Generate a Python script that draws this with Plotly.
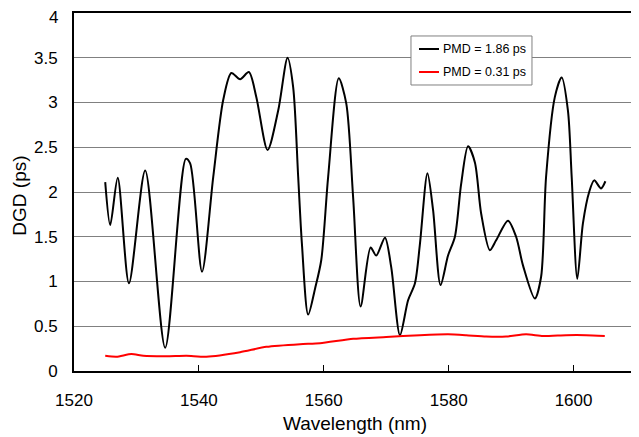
import plotly.graph_objects as go

# Black curve: PMD = 1.86 ps
wl_black = [1525.0, 1525.8, 1527.0, 1528.8, 1531.4, 1534.6, 1537.9, 1538.6, 1540.5,
            1542.3, 1543.9, 1545.2, 1546.6, 1548.0, 1549.2, 1551.0, 1552.7, 1554.2,
            1555.1, 1555.9, 1556.5, 1557.5, 1558.6, 1559.6, 1560.7, 1562.4, 1563.6,
            1564.7, 1565.9, 1567.5, 1568.4, 1569.8, 1570.8, 1572.2, 1573.5, 1574.6,
            1575.4, 1576.6, 1577.5, 1578.7, 1579.9, 1581.0, 1582.0, 1583.1, 1584.2,
            1585.2, 1586.6, 1587.6, 1589.5, 1590.8, 1591.9, 1593.8, 1594.8, 1595.6,
            1597.0, 1598.1, 1599.1, 1599.7, 1600.6, 1601.5, 1602.5, 1603.3, 1604.4,
            1605.1]
dgd_black = [2.11, 1.63, 2.16, 0.98, 2.24, 0.26, 2.37, 2.32, 1.11,
             2.17, 3.03, 3.33, 3.26, 3.34, 3.06, 2.47, 2.91, 3.50,
             3.17, 2.17, 1.42, 0.63, 0.92, 1.24, 2.17, 3.27, 2.99,
             1.94, 0.72, 1.38, 1.29, 1.49, 1.16, 0.40, 0.79, 0.98,
             1.42, 2.21, 1.80, 0.96, 1.29, 1.50, 2.09, 2.51, 2.33,
             1.76, 1.35, 1.46, 1.68, 1.50, 1.18, 0.81, 1.05, 2.17,
             3.06, 3.28, 2.91, 2.17, 1.03, 1.65, 2.00, 2.13, 2.04,
             2.12]

# Red curve: PMD = 0.31 ps
wl_red = [1525.0, 1526.8, 1529.2, 1531.1, 1534.8, 1538.0, 1541.2, 1546.6, 1550.8,
          1556.2, 1559.4, 1564.7, 1570.0, 1575.4, 1579.9, 1582.8, 1586.0, 1589.2,
          1592.4, 1595.1, 1598.8, 1602.0, 1605.0]
dgd_red = [0.17, 0.16, 0.19, 0.17, 0.165, 0.17, 0.16, 0.21, 0.27,
           0.30, 0.31, 0.36, 0.38, 0.40, 0.41, 0.40, 0.385, 0.385,
           0.41, 0.39, 0.40, 0.40, 0.39]

series_names = ["PMD = 1.86 ps", "PMD = 0.31 ps"]
series_colors = ["black", "#ff0000"]
x_ticks = [1520, 1540, 1560, 1580, 1600]
y_ticks = [0, 0.5, 1, 1.5, 2, 2.5, 3, 3.5, 4]

fig = go.Figure()
fig.add_trace(go.Scatter(x=wl_black, y=dgd_black, mode="lines", name=series_names[0],
                         line=dict(color=series_colors[0], width=2, shape="spline", smoothing=0.8)))
fig.add_trace(go.Scatter(x=wl_red, y=dgd_red, mode="lines", name=series_names[1],
                         line=dict(color=series_colors[1], width=2, shape="spline", smoothing=0.6)))

font = "Liberation Sans, Arial, sans-serif"

# Manual legend (box, line samples, labels) in paper coordinates
shapes = [dict(type="rect", xref="paper", yref="paper", x0=0.5996, x1=0.8149,
               y0=0.7989, y1=0.9358, line=dict(color="#808080", width=1),
               fillcolor="white", layer="above")]
annotations = []
leg_y = [0.8994, 0.8352]
for name, col, yy in zip(series_names, series_colors, leg_y):
    shapes.append(dict(type="line", xref="paper", yref="paper", x0=0.6139, x1=0.6495,
                       y0=yy, y1=yy, line=dict(color=col, width=2), layer="above"))
    annotations.append(dict(xref="paper", yref="paper", x=0.6530, y=yy, text=name,
                            showarrow=False, xanchor="left", yanchor="middle",
                            font=dict(size=12.5, family=font, color="black")))

# Top y tick label sits a little below the top edge (as in the reference), drawn as annotation
y_ticktext = [str(v) for v in y_ticks]
top_label = y_ticktext[-1]
y_ticktext[-1] = ""
annotations.append(dict(xref="paper", yref="y", x=0, y=y_ticks[-1], text=top_label,
                        showarrow=False, xanchor="right", yanchor="middle",
                        xshift=-14, yshift=-4,
                        font=dict(size=17, family=font, color="black")))

# Axis titles
annotations.append(dict(xref="paper", yref="paper", x=0.5, y=-0.148, text="Wavelength (nm)",
                        showarrow=False, xanchor="center", yanchor="middle",
                        font=dict(size=19, family=font, color="black")))
annotations.append(dict(xref="paper", yref="paper", x=-0.096, y=0.49, text="DGD (ps)",
                        showarrow=False, xanchor="center", yanchor="middle", textangle=-90,
                        font=dict(size=19, family=font, color="black")))

# The page body has an 8px default margin, so the figure is sized/offset to compensate.
fig.update_layout(
    width=631, height=429,
    margin=dict(l=66, r=3, t=5, b=66),
    paper_bgcolor="white", plot_bgcolor="white",
    font=dict(family=font, size=17, color="black"),
    showlegend=False,
    shapes=shapes, annotations=annotations,
    xaxis=dict(range=[1520, 1610], tickvals=x_ticks, ticks="inside", ticklen=6,
               tickcolor="black", tickwidth=1, showgrid=False, zeroline=False,
               showline=True, linecolor="black", linewidth=2, mirror=True,
               automargin=False, ticklabelstandoff=13, ticklabeloverflow="allow"),
    yaxis=dict(range=[0, 4], tickvals=y_ticks, ticktext=y_ticktext,
               ticks="", showgrid=True, gridcolor="#808080", gridwidth=1,
               zeroline=False, showline=True, linecolor="black", linewidth=2, mirror=True,
               automargin=False, ticklabelstandoff=11, ticklabeloverflow="allow"),
)
fig.write_html("out.html")
